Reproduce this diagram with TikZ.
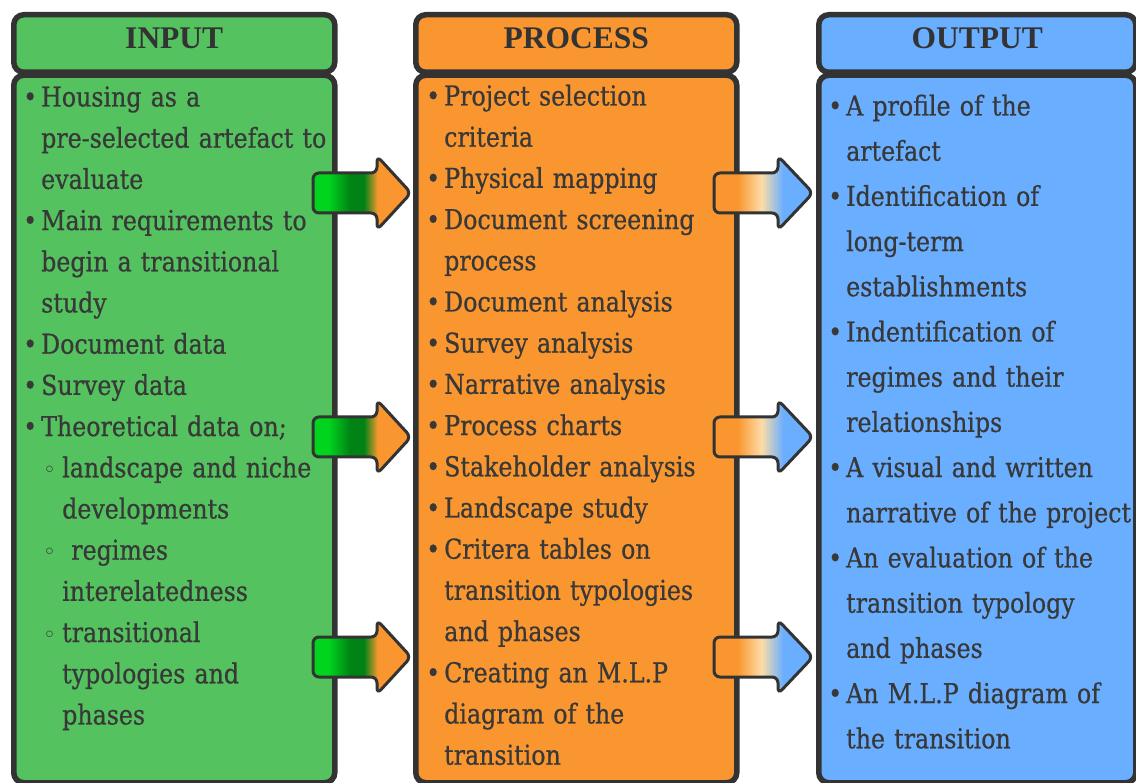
\documentclass[tikz,border=0pt]{standalone}
\usepackage{fontspec}
\setmainfont{DejaVu Serif}[FakeStretch=0.865,FakeBold=0.6]
\newfontfamily\hdfont{Liberation Serif}
\newfontfamily\symf{DejaVu Sans}
\definecolor{bd}{HTML}{333333}
\definecolor{tx}{HTML}{383838}
\definecolor{cin}{HTML}{54C25E}
\definecolor{cpr}{HTML}{F9962F}
\definecolor{cout}{HTML}{6AAEFF}
\definecolor{gA}{RGB}{0,212,30}
\definecolor{gB}{RGB}{0,130,20}
\definecolor{cream}{HTML}{FCDDA8}
\pgfdeclarehorizontalshading{greenorange}{100bp}{color(0bp)=(gA); color(33bp)=(gA); color(44bp)=(gB); color(51bp)=(gB); color(58bp)=(cpr); color(100bp)=(cpr)}
\pgfdeclarehorizontalshading{orangeblue}{100bp}{color(0bp)=(cpr); color(37bp)=(cpr); color(49bp)=(cream); color(60bp)=(cout); color(100bp)=(cout)}
\newlength\bw \setlength\bw{20pt}
\newlength\sw \setlength\sw{21pt}
\newcommand\bu{\makebox[\bw][l]{\hspace*{2pt}•}}
\newcommand\ind{\hspace*{\bw}}
\newcommand\sbu{\hspace*{\bw}\makebox[\sw][l]{\hspace*{2pt}{\symf\fontsize{22}{22}\selectfont ◦}}}
\newcommand\sind{\hspace*{\bw}\hspace*{\sw}}
\begin{document}
\begin{tikzpicture}[x=1pt,y=-1pt,
  hbox/.style={draw=bd, line width=5.5pt, rounded corners=10pt, minimum width=321pt, minimum height=57.5pt, text height=22pt, text depth=11.5pt, inner sep=0pt, anchor=north west, text=bd, font=\hdfont\bfseries\fontsize{31.5}{31.5}\selectfont},
  bbox/.style={draw=bd, line width=5.5pt, rounded corners=10pt, minimum width=321pt, minimum height=707.5pt, inner sep=0pt, anchor=north west},
  txt/.style={text=tx, inner sep=0pt, anchor=base west, text width=420pt, align=left, font=\fontsize{27.4}{41.2}\selectfont},
  txto/.style={txt, font=\fontsize{27.4}{45.2}\selectfont},
  arr/.style={draw=bd, line width=3pt, rounded corners=6pt}
]
\useasboundingbox (0,0) rectangle (1136,783);
% boxes
\node[bbox, fill=cin] (inB) at (11,72.5) {};
\node[hbox, fill=cin] (inH) at (11,12) {INPUT};
\node[bbox, fill=cpr] (prB) at (413,72.5) {};
\node[hbox, fill=cpr] (prH) at (413,12) {PROCESS};
\node[bbox, fill=cout, minimum width=317pt] (ouB) at (816,72.5) {};
\node[hbox, fill=cout, minimum width=317pt] (ouH) at (816,12) {OUTPUT};
% texts
\node[txt] (inT) at (21,106.5) {%
\bu Housing as a\\
\ind pre-selected artefact to\\
\ind evaluate\\
\bu Main requirements to\\
\ind begin a transitional\\
\ind study\\
\bu Document data\\
\bu Survey data\\
\bu Theoretical data on;\\
\sbu landscape and niche\\
\sind developments\\
\sbu\ regimes\\
\sind interelatedness\\
\sbu transitional\\
\sind typologies and\\
\sind phases};
\node[txt] (prT) at (424,105.5) {%
\bu Project selection\\
\ind criteria\\
\bu Physical mapping\\
\bu Document screening\\
\ind process\\
\bu Document analysis\\
\bu Survey analysis\\
\bu Narrative analysis\\
\bu Process charts\\
\bu Stakeholder analysis\\
\bu Landscape study\\
\bu Critera tables on\\
\ind transition typologies\\
\ind and phases\\
\bu Creating an M.L.P\\
\ind diagram of the\\
\ind transition};
\node[txto] (ouT) at (826,115.5) {%
\bu A profile of the\\
\ind artefact\\
\bu Identification of\\
\ind long-term\\
\ind establishments\\
\bu Indentification of\\
\ind regimes and their\\
\ind relationships\\
\bu A visual and written\\
\ind narrative of the project\\
\bu An evaluation of the\\
\ind transition typology\\
\ind and phases\\
\bu An M.L.P diagram of\\
\ind the transition};
% arrows
\foreach \yc in {193,437,657}{
  \shadedraw[arr, shading=greenorange] (313,\yc-20) -- (377,\yc-20) -- (377,\yc-37) -- (411,\yc) -- (377,\yc+37) -- (377,\yc+20) -- (313,\yc+20) -- cycle;
  \shadedraw[arr, shading=orangeblue] (714,\yc-20) -- (778,\yc-20) -- (778,\yc-37) -- (813,\yc) -- (778,\yc+37) -- (778,\yc+20) -- (714,\yc+20) -- cycle;
}
\end{tikzpicture}
\end{document}
